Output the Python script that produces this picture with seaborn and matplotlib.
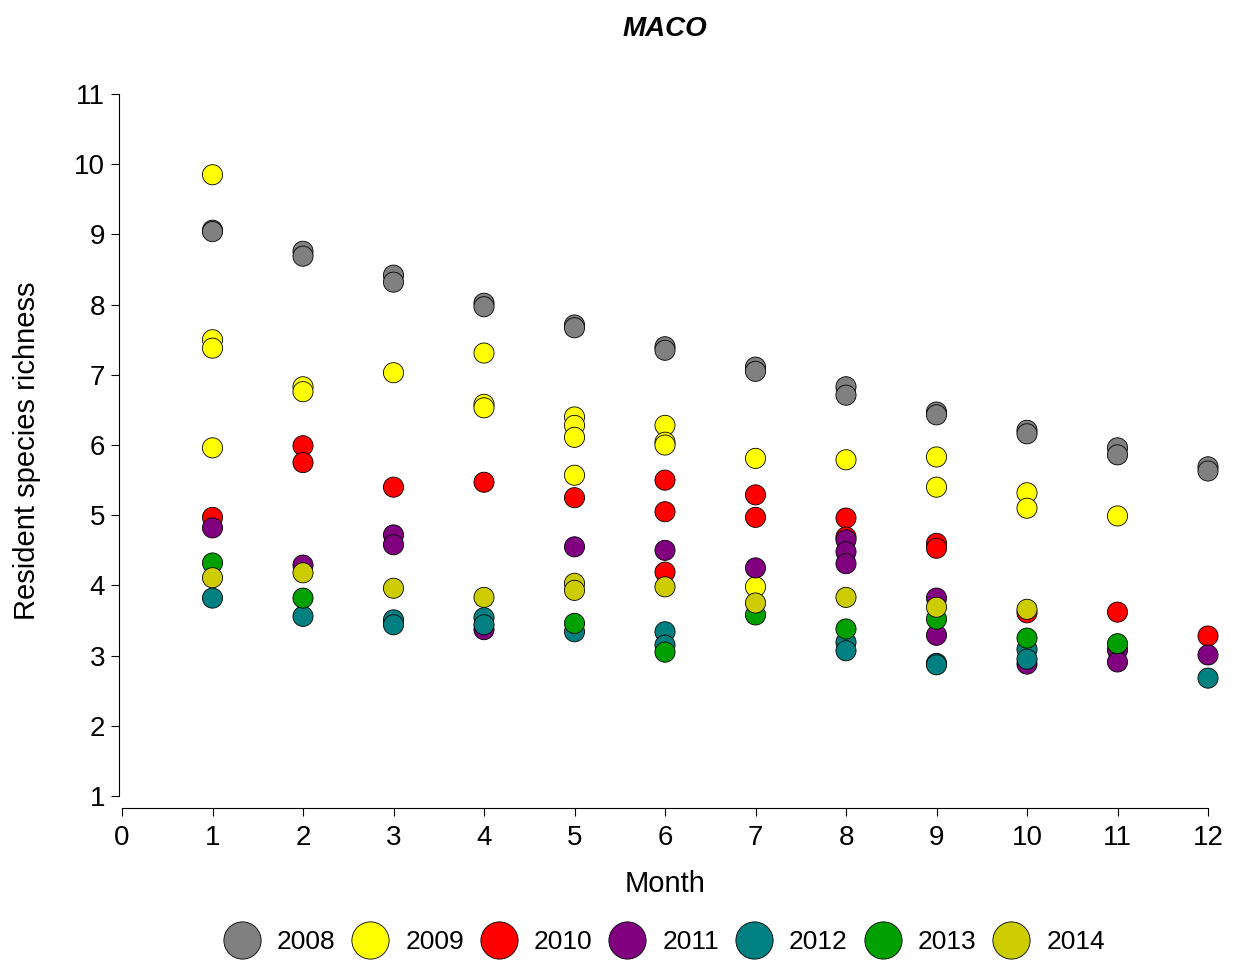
import pandas as pd
import matplotlib
matplotlib.use("Agg")
import matplotlib.pyplot as plt
import seaborn as sns

# valeurs, par année : (mois, richesse)
months_2008 = [1, 1, 2, 2, 3, 3, 4, 4, 5, 5, 6, 6, 7, 7, 8, 8, 9, 9, 10, 10, 11, 11, 12, 12]
rich_2008 = [9.06, 9.04, 8.76, 8.69, 8.42, 8.32, 8.02, 7.97, 7.71, 7.67, 7.40, 7.35,
             7.11, 7.05, 6.83, 6.71, 6.47, 6.43, 6.21, 6.16, 5.96, 5.86, 5.69, 5.63]

months_2009 = [1, 1, 1, 1, 2, 2, 3, 4, 4, 4, 5, 5, 5, 5, 6, 6, 6, 7, 7, 8, 9, 9, 10, 10, 11]
rich_2009 = [9.85, 7.50, 7.38, 5.96, 6.83, 6.76, 7.03, 7.31, 6.58, 6.53, 6.40, 6.28, 6.11, 5.57,
             6.28, 6.04, 6.00, 5.81, 3.98, 5.79, 5.83, 5.40, 5.32, 5.10, 4.99]

months_2010 = [1, 2, 2, 3, 4, 5, 6, 6, 6, 7, 7, 8, 8, 9, 9, 10, 11, 12]
rich_2010 = [4.97, 5.99, 5.75, 5.40, 5.47, 5.25, 5.50, 5.05, 4.19, 5.29, 4.97, 4.96, 4.69,
             4.60, 4.53, 3.61, 3.62, 3.28]

months_2011 = [1, 2, 3, 3, 4, 5, 6, 7, 8, 8, 8, 9, 9, 10, 11, 11, 12]
rich_2011 = [4.82, 4.29, 4.72, 4.58, 3.37, 4.55, 4.50, 4.25, 4.65, 4.48, 4.31, 3.82, 3.29,
             2.88, 3.08, 2.91, 3.01]

months_2012 = [1, 2, 3, 3, 4, 4, 5, 6, 6, 8, 8, 9, 9, 10, 10, 12]
rich_2012 = [3.82, 3.56, 3.51, 3.44, 3.54, 3.44, 3.34, 3.34, 3.15, 3.19, 3.07, 2.89, 2.87,
             3.09, 2.95, 2.68]

months_2013 = [1, 2, 5, 6, 7, 8, 9, 10, 11]
rich_2013 = [4.32, 3.82, 3.46, 3.05, 3.58, 3.38, 3.52, 3.25, 3.17]

months_2014 = [1, 2, 3, 4, 5, 5, 6, 7, 8, 9, 10]
rich_2014 = [4.11, 4.18, 3.96, 3.83, 4.03, 3.93, 3.98, 3.75, 3.83, 3.69, 3.66]

years = ["2008", "2009", "2010", "2011", "2012", "2013", "2014"]
colors = ["#808080", "#FFFF00", "#FF0000", "#800080", "#008080", "#00A000", "#CCCC00"]

all_months = [months_2008, months_2009, months_2010, months_2011, months_2012, months_2013, months_2014]
all_rich = [rich_2008, rich_2009, rich_2010, rich_2011, rich_2012, rich_2013, rich_2014]

# tableau long pour seaborn
frames = []
for y, m, r in zip(years, all_months, all_rich):
    frames.append(pd.DataFrame({"Month": m, "Richness": r, "Year": y}))
df = pd.concat(frames, ignore_index=True)

sns.set_style("white")
plt.rcParams['font.family'] = ['Liberation Sans', 'DejaVu Sans']
plt.rcParams['text.color'] = 'black'
plt.rcParams['axes.labelcolor'] = 'black'
plt.rcParams['xtick.color'] = 'black'
plt.rcParams['ytick.color'] = 'black'

fig = plt.figure(figsize=(12.35, 9.64), dpi=100)
ax = fig.add_axes([122 / 1235, (964 - 808) / 964, (1208 - 122) / 1235, (808 - 94) / 964])

sns.scatterplot(data=df, x="Month", y="Richness", hue="Year", hue_order=years,
                palette=dict(zip(years, colors)), s=210, edgecolor="black",
                linewidth=0.6, alpha=1, ax=ax, clip_on=False, zorder=3)

ax.set_xlim(0, 12)
ax.set_ylim(0.83, 11)
ax.set_xticks(range(0, 13))
ax.set_yticks(range(1, 12))
ax.spines["top"].set_visible(False)
ax.spines["right"].set_visible(False)
ax.spines["left"].set_bounds(1, 11)
ax.spines["left"].set_position(("outward", 2))
for sp in ["left", "bottom"]:
    ax.spines[sp].set_color("black")
    ax.spines[sp].set_linewidth(0.8)
ax.tick_params(axis="both", which="major", labelsize=20, length=6, width=0.8,
               color="black", left=True, bottom=True)
ax.tick_params(axis="x", pad=6)
ax.tick_params(axis="y", pad=4)

ax.set_xlabel("Month", fontsize=21, labelpad=14)
ax.set_ylabel("Resident species richness", fontsize=21, labelpad=24)
ax.set_title("MACO", fontsize=20, fontweight="bold", fontstyle="italic", pad=42)

leg = ax.legend(loc="center", bbox_to_anchor=(0.5, -0.188), ncol=7, frameon=False,
                fontsize=19, markerscale=1.85, handlelength=1.25, handletextpad=0.7,
                columnspacing=0.7)

fig.savefig("out.png", dpi=100)
